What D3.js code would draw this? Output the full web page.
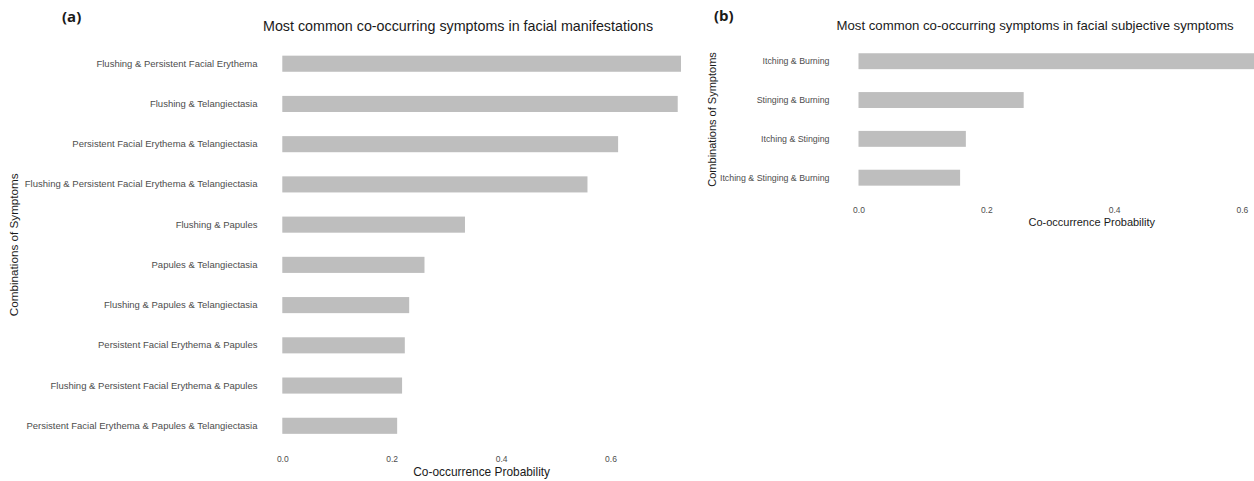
<!DOCTYPE html>
<html>
<head>
<meta charset="utf-8">
<script src="https://cdn.jsdelivr.net/npm/d3@7"></script>
<style>
  html, body { margin: 0; padding: 0; background: #fff; }
  svg { display: block; font-family: "Liberation Sans", Arial, sans-serif; }
</style>
</head>
<body>
<svg id="chart" width="1254" height="481"></svg>
<script>
// Panel (a): facial manifestations
const combosA = [
  "Flushing & Persistent Facial Erythema",
  "Flushing & Telangiectasia",
  "Persistent Facial Erythema & Telangiectasia",
  "Flushing & Persistent Facial Erythema & Telangiectasia",
  "Flushing & Papules",
  "Papules & Telangiectasia",
  "Flushing & Papules & Telangiectasia",
  "Persistent Facial Erythema & Papules",
  "Flushing & Persistent Facial Erythema & Papules",
  "Persistent Facial Erythema & Papules & Telangiectasia"
];
const probA = [0.729, 0.723, 0.614, 0.558, 0.334, 0.260, 0.232, 0.224, 0.219, 0.210];

// Panel (b): facial subjective symptoms
const combosB = [
  "Itching & Burning",
  "Stinging & Burning",
  "Itching & Stinging",
  "Itching & Stinging & Burning"
];
const probB = [0.730, 0.2585, 0.168, 0.159];

const tickValues = [0, 0.2, 0.4, 0.6];

const svg = d3.select("#chart");
const barColor = "#bebebe";
const tickColor = "#4d4d4d";

function panel(cfg) {
  const g = svg.append("g");
  const x = d3.scaleLinear().domain([0, d3.max(cfg.values)]).range([cfg.left, cfg.right]);
  const y = d3.scaleBand().domain(cfg.cats).range([cfg.top, cfg.bottom])
    .paddingInner(cfg.pad).paddingOuter(cfg.pad / 2);

  g.selectAll("rect.bar")
    .data(cfg.cats.map((c, i) => ({ c, v: cfg.values[i] })))
    .join("rect")
    .attr("class", "bar")
    .attr("x", x(0))
    .attr("y", d => y(d.c))
    .attr("width", d => x(d.v) - x(0))
    .attr("height", y.bandwidth())
    .attr("fill", barColor);

  // category labels
  const yAxis = g.append("g")
    .attr("transform", `translate(${cfg.left},0)`)
    .call(d3.axisLeft(y).tickSize(0).tickPadding(cfg.left - cfg.labelRight));
  yAxis.select(".domain").remove();
  yAxis.selectAll("text")
    .attr("fill", tickColor)
    .attr("font-size", cfg.catFont)
    .style("font-family", "Liberation Sans, Arial, sans-serif");

  // value ticks
  const xAxis = g.append("g")
    .attr("transform", `translate(0,${cfg.bottom})`)
    .call(d3.axisBottom(x).tickValues(tickValues).tickFormat(d3.format(".1f")).tickSize(0).tickPadding(cfg.tickPad));
  xAxis.select(".domain").remove();
  xAxis.selectAll("text")
    .attr("fill", tickColor)
    .attr("font-size", cfg.tickFont)
    .style("font-family", "Liberation Sans, Arial, sans-serif");

  // axis titles
  g.append("text")
    .attr("x", (cfg.left + cfg.right) / 2)
    .attr("y", cfg.xTitleY)
    .attr("text-anchor", "middle")
    .attr("font-size", cfg.xTitleFont)
    .attr("fill", "#1a1a1a")
    .text("Co-occurrence Probability");

  g.append("text")
    .attr("transform", `translate(${cfg.yTitleX},${(cfg.top + cfg.bottom) / 2}) rotate(-90)`)
    .attr("text-anchor", "middle")
    .attr("font-size", cfg.yTitleFont)
    .attr("fill", "#1a1a1a")
    .text("Combinations of Symptoms");

  // plot title and panel tag
  g.append("text")
    .attr("x", cfg.titleX)
    .attr("y", cfg.titleY)
    .attr("font-size", cfg.titleFont)
    .attr("fill", "#1a1a1a")
    .text(cfg.title);

  g.append("text")
    .attr("x", cfg.tagX)
    .attr("y", cfg.tagY)
    .attr("font-size", 15)
    .attr("font-weight", "bold")
    .attr("fill", "#1a1a1a")
    .style("font-family", "Open Sans, Liberation Sans, sans-serif")
    .text(cfg.tag);
}

panel({
  cats: combosA, values: probA,
  left: 282.3, right: 681, top: 43.6, bottom: 445.9, pad: 0.6,
  labelRight: 257.5, catFont: 9.5, tickFont: 8.5, tickPad: 10,
  xTitleY: 475.5, yTitleX: 18, xTitleFont: 11.9, yTitleFont: 11.7,
  title: "Most common co-occurring symptoms in facial manifestations",
  titleX: 263, titleY: 31, titleFont: 14.3,
  tag: "(a)", tagX: 62, tagY: 22
});

panel({
  cats: combosB, values: probB,
  left: 858.5, right: 858.5 + 0.73 * 639, top: 41.8, bottom: 197.1, pad: 0.59,
  labelRight: 829.5, catFont: 8.8, tickFont: 8.5, tickPad: 10,
  xTitleY: 225.5, yTitleX: 716, xTitleFont: 11, yTitleFont: 11,
  title: "Most common co-occurring symptoms in facial subjective symptoms",
  titleX: 836.5, titleY: 30, titleFont: 13.2,
  tag: "(b)", tagX: 714, tagY: 21
});
</script>
</body>
</html>
